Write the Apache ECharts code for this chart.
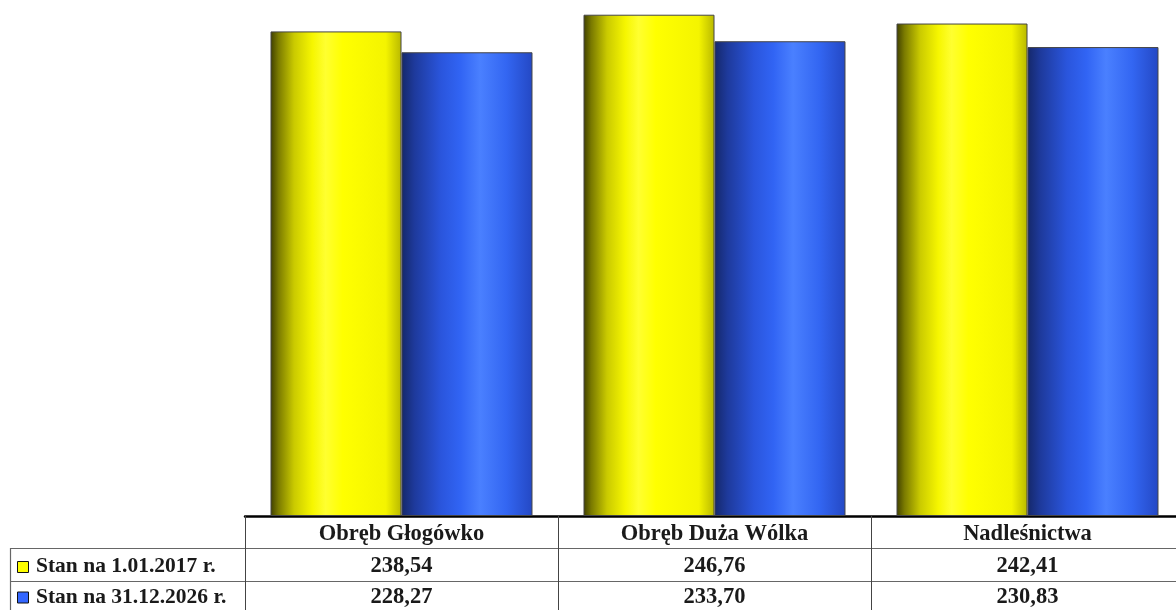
<!DOCTYPE html>
<html>
<head>
<meta charset="utf-8">
<script src="https://cdn.jsdelivr.net/npm/echarts@6/dist/echarts.min.js"></script>
<style>
html,body{margin:0;padding:0;background:#fff;}
#chart{width:1176px;height:610px;}
</style>
</head>
<body>
<div id="chart"></div>
<script>
const categories = ['Obręb Głogówko', 'Obręb Duża Wólka', 'Nadleśnictwa'];
const seriesNames = ['Stan na 1.01.2017 r.', 'Stan na 31.12.2026 r.'];
const values2017 = [238.54, 246.76, 242.41];
const values2026 = [228.27, 233.70, 230.83];
const legendColors = ['#ffff00', '#3366ff'];

const FONT = '"Liberation Serif", "DejaVu Serif", serif';
const fmt = v => v.toFixed(2).replace('.', ',');

const yellowGrad = new echarts.graphic.LinearGradient(0, 0, 1, 0, [
  {offset: 0, color: '#3f3f00'},
  {offset: 0.06, color: '#7a7a00'},
  {offset: 0.18, color: '#caca00'},
  {offset: 0.32, color: '#f6f600'},
  {offset: 0.42, color: '#ffff30'},
  {offset: 0.55, color: '#ffff00'},
  {offset: 0.88, color: '#f4f400'},
  {offset: 1, color: '#b8b800'}
]);
const blueGrad = new echarts.graphic.LinearGradient(0, 0, 1, 0, [
  {offset: 0, color: '#15286a'},
  {offset: 0.1, color: '#1e3a9c'},
  {offset: 0.3, color: '#2a55dc'},
  {offset: 0.45, color: '#3164f4'},
  {offset: 0.6, color: '#4a80ff'},
  {offset: 0.8, color: '#3366f2'},
  {offset: 1, color: '#2448c4'}
]);

const chart = echarts.init(document.getElementById('chart'));
const option = {
  animation: false,
  backgroundColor: '#ffffff',
  grid: {left: 245, top: 0, width: 939, bottom: 94, containLabel: false, outerBoundsMode: 'none'},
  xAxis: {
    type: 'category',
    data: categories,
    axisLine: {show: true, lineStyle: {color: '#000', width: 2.5}},
    axisTick: {show: true, length: 94, lineStyle: {color: '#444', width: 1}},
    axisLabel: {
      margin: 2,
      interval: 0,
      formatter: (name, idx) => '{h|' + name + '}\n{v|' + fmt(values2017[idx]) + '}\n{v|' + fmt(values2026[idx]) + '}',
      rich: {
        h: {fontFamily: FONT, fontWeight: 'bold', fontSize: 22.5, color: '#1a1a1a', lineHeight: 32},
        v: {fontFamily: FONT, fontWeight: 'bold', fontSize: 22.5, color: '#1a1a1a', lineHeight: 31.5}
      }
    }
  },
  yAxis: {type: 'value', min: 0, max: 254, show: false, splitLine: {show: false}},
  series: [
    {
      name: seriesNames[0], type: 'bar', data: values2017,
      barGap: '0%', barCategoryGap: '16.3%',
      itemStyle: {color: yellowGrad, borderColor: '#444', borderWidth: 1}
    },
    {
      name: seriesNames[1], type: 'bar', data: values2026,
      itemStyle: {color: blueGrad, borderColor: '#444', borderWidth: 1}
    }
  ],
  graphic: [
    {type: 'line', shape: {x1: 10, y1: 548.5, x2: 1176, y2: 548.5}, style: {stroke: '#666', lineWidth: 1.2}},
    {type: 'line', shape: {x1: 10, y1: 581.5, x2: 1176, y2: 581.5}, style: {stroke: '#666', lineWidth: 1.2}},
    {type: 'line', shape: {x1: 10.5, y1: 548, x2: 10.5, y2: 610}, style: {stroke: '#666', lineWidth: 1.2}},
    ...seriesNames.map((n, i) => ({
      type: 'group', children: [
        {type: 'rect', shape: {x: 17.5, y: 561.5 + i * 30.5, width: 11, height: 11},
         style: {fill: legendColors[i], stroke: '#111', lineWidth: 1}},
        {type: 'text', x: 36, y: 566 + i * 31,
         style: {text: n, fontFamily: FONT, fontWeight: 'bold', fontSize: 21.5, fill: '#1a1a1a', verticalAlign: 'middle'}}
      ]
    }))
  ]
};
chart.setOption(option);
</script>
</body>
</html>
